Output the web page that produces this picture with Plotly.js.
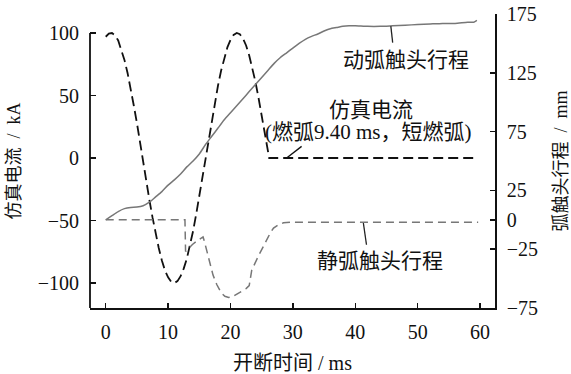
<!DOCTYPE html>
<html>
<head>
<meta charset="utf-8">
<script src="https://cdn.plot.ly/plotly-3.0.1.min.js"></script>
<style>html,body{margin:0;padding:0;background:#fff;}#chart{width:571px;height:374px;}</style>
</head>
<body>
<div id="chart"></div>
<script>
// Simulated current (kA) vs time (ms)
const currentT = [0,0.5,1,1.5,2,2.5,3,3.5,4,4.5,5,5.5,6,6.5,7,7.5,8,8.5,9,9.5,10,10.5,11,11.5,12,12.5,13,13.5,14,14.5,15,15.5,16,16.5,17,17.5,18,18.5,19,19.5,20,20.5,21,21.5,22,22.5,23,23.5,24,24.5,25,25.5,26,26.2,59.7];
const currentI = [97,99.5,100,98,94,87,78.5,68,56,42,28,12,-3,-18.5,-33.5,-47.5,-60.5,-72,-82,-90,-95.5,-99,-100,-98.5,-94.5,-88.5,-80.5,-70,-58.5,-45,-30.5,-15.5,0,15.5,30.5,45,58,70,80,88.5,94.5,98.5,100,99,95.5,90,82,72,61,48,33.5,18.5,3,0,0];

// Moving arc contact travel (mm)
const movingT = [0,1,2,3,4,5,6,7,8,9,10,11,12,13,14,15,16,17,18,19,20,21,22,23,24,25,26,27,28,29,30,31,32,33,34,35,36,37,38,39,40,42,44,46,48,50,52,54,56,58,59,59.5];
const movingS = [0,3.5,7,9.5,10.5,10.8,12,15,19.5,24,29.5,34,39,45,50,56,64,71,78,85,91,97,103,109,115,121,127,133,138,142,146,150,153.5,156,158,160.5,162.5,163.5,164.5,165,165,164.5,164.5,165,165.5,166,166.5,167,167,168,168,169.5];

// Static arc contact travel (mm)
const staticT = [0,12.7,12.8,13.3,13.9,14.6,15.3,15.6,15.8,16.3,16.7,17.2,17.8,18.5,19.1,19.7,20.3,21.1,21.8,22.5,23.0,23.4,24.45,25.1,25.8,26.4,26.9,27.6,28.5,30,59.7];
const staticS = [0,0,-27,-24,-21,-18,-15.5,-14.5,-18,-28,-37,-47,-55,-62,-65,-66,-65.5,-63,-61,-58.5,-56,-43,-31,-24,-17,-11,-7,-4.5,-2.5,-2,-2];

// Axis ticks
const xTicks = [0,10,20,30,40,50,60];
const yLeftTicks = [-100,-50,0,50,100];
const yRightTicks = [-75,-25,0,25,75,125,175];

const serif = "Times New Roman, Liberation Serif, DejaVu Serif, Noto Sans CJK SC, serif";

const traces = [
  {x: currentT, y: currentI, type: 'scatter', mode: 'lines', yaxis: 'y',
   line: {color: '#111', width: 1.8, dash: '10px,5px'}, name: '仿真电流', hoverinfo: 'skip'},
  {x: movingT, y: movingS, type: 'scatter', mode: 'lines', yaxis: 'y2',
   line: {color: '#777', width: 1.5, shape: 'spline', smoothing: 0.6}, name: '动弧触头行程', hoverinfo: 'skip'},
  {x: staticT, y: staticS, type: 'scatter', mode: 'lines', yaxis: 'y2',
   line: {color: '#777', width: 1.5, dash: '8px,5px'}, name: '静弧触头行程', hoverinfo: 'skip'}
];

const tickFont = {family: serif, size: 20, color: '#111'};

const layout = {
  width: 571, height: 374,
  margin: {l: 90, r: 76, t: 14, b: 66, pad: 0},
  paper_bgcolor: '#fff', plot_bgcolor: '#fff',
  showlegend: false,
  font: {family: serif, color: '#111'},
  xaxis: {
    range: [-2.52, 62.4], tickvals: xTicks, ticktext: xTicks.map(String),
    ticks: 'inside', ticklen: 5, tickwidth: 1.5, tickcolor: '#111',
    showline: true, linecolor: '#111', linewidth: 1.8, mirror: false,
    showgrid: false, zeroline: false, tickfont: tickFont, ticklabelstandoff: 5,
    title: {text: '开断时间 / ms', font: {family: serif, size: 20, color: '#111'}, standoff: 14},
    automargin: false
  },
  yaxis: {
    range: [-120, 115.2], tickvals: yLeftTicks,
    ticks: 'inside', ticklen: 6, tickwidth: 1.5, tickcolor: '#111',
    showline: false, showgrid: false, zeroline: false, tickfont: tickFont, ticklabelstandoff: 10,
    title: {text: '仿真电流\u2002/\u2002kA', font: {family: serif, size: 18, color: '#111'}, standoff: 12},
    automargin: false
  },
  yaxis2: {
    range: [-75, 175], tickvals: yRightTicks, overlaying: 'y', side: 'right',
    ticks: 'inside', ticklen: 5, tickwidth: 1.5, tickcolor: '#111',
    showline: true, linecolor: '#111', linewidth: 1.8,
    showgrid: false, zeroline: false, tickfont: tickFont, ticklabelstandoff: 6,
    title: {text: '弧触头行程\u2002/\u2002mm', font: {family: serif, size: 18, color: '#111'}, standoff: 17},
    automargin: false
  },
  shapes: [
    {type: 'line', xref: 'paper', yref: 'y', x0: 0, x1: 0, y0: -120, y1: 100, line: {color: '#111', width: 1.8}},
    {type: 'line', xref: 'x', yref: 'y2', x0: 45.7, x1: 46.0, y0: 164.7, y1: 150.6, line: {color: '#222', width: 1.3}},
    {type: 'line', xref: 'x', yref: 'y', x0: 31.4, x1: 29.0, y0: 9.3, y1: 0, line: {color: '#111', width: 1.3}},
    {type: 'line', xref: 'x', yref: 'y2', x0: 41.3, x1: 41.8, y0: -2.7, y1: -21.2, line: {color: '#222', width: 1.3}}
  ],
  annotations: [
    {text: '动弧触头行程', x: 48.2, y: 136.1, xref: 'x', yref: 'y2', showarrow: false,
     font: {family: serif, size: 21, color: '#111'}, xanchor: 'center', yanchor: 'middle'},
    {text: '仿真电流', x: 42.5, y: 38.6, xref: 'x', yref: 'y', showarrow: false,
     font: {family: serif, size: 21, color: '#111'}, xanchor: 'center', yanchor: 'middle'},
    {text: '(燃弧9.40 ms，短燃弧)', x: 42.2, y: 20.6, xref: 'x', yref: 'y', showarrow: false,
     font: {family: serif, size: 21, color: '#111'}, xanchor: 'center', yanchor: 'middle'},
    {text: '静弧触头行程', x: 43.9, y: -35.4, xref: 'x', yref: 'y2', showarrow: false,
     font: {family: serif, size: 21, color: '#111'}, xanchor: 'center', yanchor: 'middle'}
  ]
};

Plotly.newPlot('chart', traces, layout, {staticPlot: true, displayModeBar: false});
</script>
</body>
</html>
